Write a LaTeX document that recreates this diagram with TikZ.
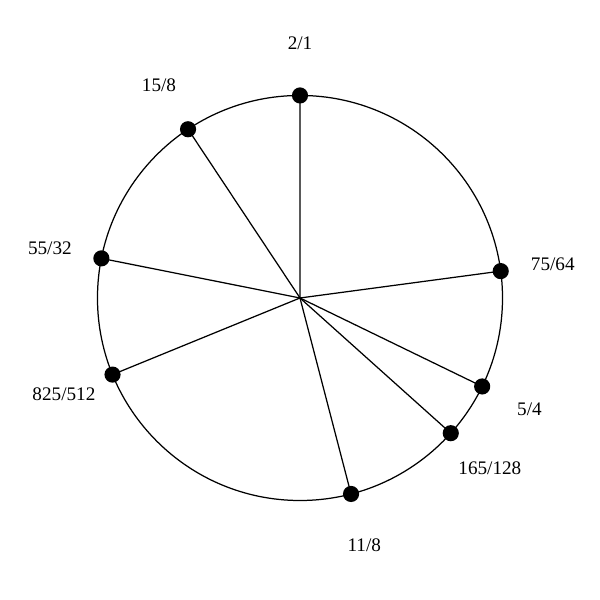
\documentclass[tikz,border=0pt]{standalone}
\usepackage{fontspec}
\setmainfont{Liberation Serif}
\begin{document}
\begin{tikzpicture}[line width=0.7pt,
  dot/.style={circle,fill,inner sep=0pt,minimum size=0.32cm},
  ratio/.style={font=\fontsize{10.8}{13}\selectfont}]
\useasboundingbox (-5.94,-5.98) rectangle (5.94,5.90);
\coordinate (c) at (0,0);
\draw (c) circle (4.01);

\foreach \n/\p/\q in {two/2/1, sev/75/64, maj/5/4, tri/165/128, ele/11/8, eig/825/512, six/55/32, fif/15/8} {
  \pgfmathsetmacro\ang{90-360*ln(\p/\q)/ln(2)}
  \draw (c) -- (\ang:4.01) node [dot] (r\n) {};
  \node [ratio] (l\n) at (\ang:5.05) {\p/\q};
}
\end{tikzpicture}
\end{document}
